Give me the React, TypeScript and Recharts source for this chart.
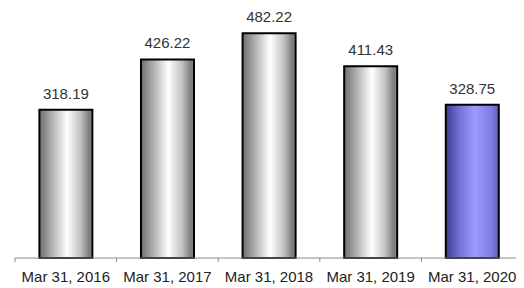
import React from "react";
import { BarChart, Bar, XAxis, YAxis, Cell, LabelList } from "recharts";

const categories = ["Mar 31, 2016", "Mar 31, 2017", "Mar 31, 2018", "Mar 31, 2019", "Mar 31, 2020"];
const values = [318.19, 426.22, 482.22, 411.43, 328.75];
const highlighted = "Mar 31, 2020";

const data = categories.map((c, i) => ({ name: c, value: values[i] }));

const FONT = "Liberation Sans, Arial, sans-serif";

function BoundaryTick(props: any) {
  const { x, y, payload, index, visibleTicksCount } = props;
  const half = payload && payload.offset ? payload.offset : 0;
  const top = y - 8;
  const isLast = index === (visibleTicksCount ?? categories.length) - 1;
  return (
    <g>
      <line x1={x - half} x2={x - half} y1={top} y2={top + 4} stroke="#8a8a8a" strokeWidth={1} />
      {isLast && (
        <line x1={x + half} x2={x + half} y1={top} y2={top + 4} stroke="#8a8a8a" strokeWidth={1} />
      )}
      <text x={x} y={top + 24} textAnchor="middle" fontSize={15} fill="#222" fontFamily={FONT}>
        {payload.value}
      </text>
    </g>
  );
}

export default function App() {
  return (
    <div style={{ margin: "-8px 0 0 -8px", width: 524, height: 288, background: "#fff" }}>
      <BarChart
        width={524}
        height={288}
        data={data}
        margin={{ top: 25, right: 1, bottom: 0, left: 15 }}
        barCategoryGap="24%"
      >
        <defs>
          <linearGradient id="grayGrad" x1="0" y1="0" x2="1" y2="0">
            <stop offset="0%" stopColor="#6e6e6e" />
            <stop offset="22%" stopColor="#acacac" />
            <stop offset="52%" stopColor="#ffffff" />
            <stop offset="78%" stopColor="#c0c0c0" />
            <stop offset="94%" stopColor="#7c7c7c" />
            <stop offset="100%" stopColor="#8c8c8c" />
          </linearGradient>
          <linearGradient id="blueGrad" x1="0" y1="0" x2="1" y2="0">
            <stop offset="0%" stopColor="#3c3c8e" />
            <stop offset="25%" stopColor="#7070d8" />
            <stop offset="55%" stopColor="#9c9cff" />
            <stop offset="85%" stopColor="#7e7ee6" />
            <stop offset="100%" stopColor="#5e5ebc" />
          </linearGradient>
        </defs>
        <XAxis
          dataKey="name"
          height={30}
          stroke="#8a8a8a"
          tickLine={false}
          tickSize={0}
          tickMargin={8}
          interval={0}
          tick={<BoundaryTick />}
        />
        <YAxis hide domain={[0, 500]} />
        <Bar dataKey="value" stroke="#000" strokeWidth={2} isAnimationActive={false}>
          {data.map((d) => (
            <Cell key={d.name} fill={d.name === highlighted ? "url(#blueGrad)" : "url(#grayGrad)"} />
          ))}
          <LabelList
            dataKey="value"
            position="top"
            offset={11}
            formatter={(v: number) => v.toFixed(2)}
            style={{ fontSize: 15, fill: "#333", fontFamily: FONT }}
          />
        </Bar>
      </BarChart>
    </div>
  );
}
